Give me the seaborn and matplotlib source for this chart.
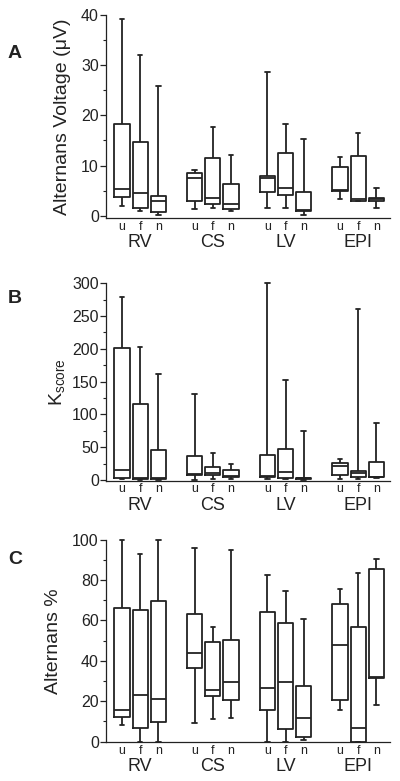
import numpy as np
import pandas as pd
import matplotlib
matplotlib.use("Agg")
import matplotlib.pyplot as plt
from matplotlib.ticker import MultipleLocator
import seaborn as sns

# ---------------- data ----------------
sites = ["RV", "CS", "LV", "EPI"]
conds = ["u", "f", "n"]

# Panel A: Alternans voltage (uV); order RV u,f,n, CS u,f,n, LV u,f,n, EPI u,f,n
volt_lo = [2.0, 1.0, 0.2, 1.4, 1.65, 1.05, 1.5, 1.5, 0.2, 3.3, 2.9, 1.5]
volt_q1 = [3.8, 1.65, 0.7, 3.05, 2.45, 1.45, 4.85, 4.2, 0.9, 5.0, 2.9, 3.05]
volt_med = [5.3, 4.6, 3.0, 7.5, 3.6, 2.45, 7.6, 5.6, 1.1, 5.2, 3.3, 3.3]
volt_q3 = [18.3, 14.8, 4.0, 8.5, 11.5, 6.3, 7.9, 12.6, 4.85, 9.7, 11.85, 3.6]
volt_hi = [39.1, 32.0, 25.9, 9.2, 17.7, 12.1, 28.7, 18.3, 15.2, 11.8, 16.4, 5.5]

# Panel B: K score
k_lo = [1, 0.5, 0.5, 0.5, 1.5, 1, 1, 1, 0.5, 1, 1, 2.5]
k_q1 = [3, 2, 1.5, 7, 7.6, 5, 4, 2.5, 1, 7.1, 4, 4]
k_med = [14.7, 3.5, 2.5, 8.6, 10.2, 6.6, 6.1, 12.7, 2.5, 21.9, 10.2, 5]
k_q3 = [201, 116.4, 45.8, 36.6, 20.3, 14.7, 38, 47.8, 3.5, 25.4, 14.2, 28]
k_hi = [278.6, 203, 161, 130.6, 40.7, 23.9, 300, 152.5, 75, 32.5, 261, 87]

# Panel C: Alternans %
p_lo = [8.3, 0, 0, 9.3, 11, 11.5, 0, 0, 1, 15.9, 0, 18.4]
p_q1 = [12.3, 6.8, 9.6, 36.4, 22.4, 20.6, 15.9, 6.5, 2.2, 20.6, 0, 31.4]
p_med = [15.9, 22.9, 20.9, 43.9, 25.6, 29.4, 26.6, 29.4, 11.8, 47.8, 6.8, 32.2]
p_q3 = [66.4, 65.1, 69.4, 63, 49.2, 50.3, 64.1, 58.8, 27.6, 68.4, 56.8, 85.5]
p_hi = [100, 93, 100, 96, 56.6, 94.7, 82.6, 74.8, 60.6, 75.6, 83.4, 90.5]

y_labels = ["Alternans Voltage (\u03bcV)", r"$\mathrm{K}_{\mathrm{score}}$", "Alternans %"]
panel_letters = ["A", "B", "C"]

# ---------------- style ----------------
sns.set_style("ticks")
plt.rcParams["font.family"] = ["Liberation Sans", "DejaVu Sans"]
plt.rcParams["mathtext.fontset"] = "custom"
plt.rcParams["mathtext.rm"] = "Liberation Sans"
plt.rcParams["mathtext.it"] = "Liberation Sans:italic"
LINE = "#222222"

fig = plt.figure(figsize=(4.0, 7.81), dpi=100)

panels = [
    dict(stats=(volt_lo, volt_q1, volt_med, volt_q3, volt_hi), ylim=(-0.4, 40),
         major=10, rect=[0.266, 0.721, 0.709, 0.260], lab_x=-0.125, letter_y=0.932),
    dict(stats=(k_lo, k_q1, k_med, k_q3, k_hi), ylim=(-1.0, 300),
         major=50, rect=[0.266, 0.3845, 0.709, 0.2528], lab_x=-0.14, letter_y=0.618),
    dict(stats=(p_lo, p_q1, p_med, p_q3, p_hi), ylim=(-0.33, 100),
         major=20, rect=[0.266, 0.0495, 0.709, 0.2595], lab_x=-0.157, letter_y=0.283),
]

# box position from category indices: groups of three with a gap
positions = [si * 4 + ci for si in range(len(sites)) for ci in range(len(conds))]

for k, p in enumerate(panels):
    ax = fig.add_axes(p["rect"])
    rows = []
    for i, pos in enumerate(positions):
        for arr in p["stats"]:
            rows.append({"pos": pos, "value": arr[i]})
    df = pd.DataFrame(rows)
    sns.boxplot(data=df, x="pos", y="value", native_scale=True, orient="x",
                width=0.83, whis=(0, 100), fill=False, color=LINE,
                linewidth=1.3, showfliers=False, capwidths=0.25, ax=ax)
    for ln in ax.lines:
        ln.set_clip_on(False)
        ln.set_color(LINE)
    for pt in ax.patches:
        pt.set_clip_on(False)

    ax.set_xlim(-0.86, 14.75)
    ax.set_ylim(*p["ylim"])
    ax.yaxis.set_major_locator(MultipleLocator(p["major"]))
    ax.yaxis.set_minor_locator(MultipleLocator(p["major"] / 2))
    ax.tick_params(axis="y", which="major", length=4, width=0.9, labelsize=11.5,
                   colors=LINE, pad=1.5)
    ax.tick_params(axis="y", which="minor", length=2, width=0.8, colors=LINE)
    ax.set_xticks(positions, labels=conds * len(sites))
    ax.tick_params(axis="x", length=0, labelsize=9, pad=2, colors=LINE)
    ax.set_xlabel("")
    ax.set_ylabel(y_labels[k], fontsize=14, color=LINE)
    ax.yaxis.set_label_coords(p["lab_x"], 0.5)
    for side in ["top", "right"]:
        ax.spines[side].set_visible(False)
    for side in ["left", "bottom"]:
        ax.spines[side].set_linewidth(0.9)
        ax.spines[side].set_color(LINE)
    for si, s in enumerate(sites):
        ax.annotate(s, xy=(si * 4 + 1, 0), xycoords=("data", "axes fraction"),
                    xytext=(0, -17.5), textcoords="offset points",
                    ha="center", va="center", fontsize=13, color=LINE)
    fig.text(0.02, p["letter_y"], panel_letters[k], fontsize=14,
             fontweight="bold", ha="left", va="center", color=LINE)

fig.savefig("out.png", dpi=100)
